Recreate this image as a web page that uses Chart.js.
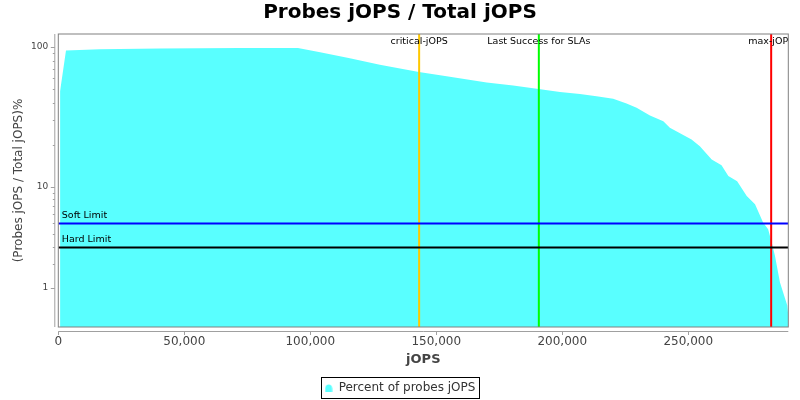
<!DOCTYPE html>
<html>
<head>
<meta charset="utf-8">
<title>Probes jOPS / Total jOPS</title>
<script src="https://cdn.jsdelivr.net/npm/chart.js@4.4.1/dist/chart.umd.min.js"></script>
<style>
  html, body { margin: 0; padding: 0; background: #fff; }
  #wrap { width: 800px; height: 400px; }
</style>
</head>
<body>
<div id="wrap"><canvas id="probesChart" width="800" height="400"></canvas></div>
<script>
// данные
const jopsValues = [700, 3050, 16500, 40400, 72100, 95100, 103900, 115700, 127600, 143100,
  154100, 170000, 180500, 190600, 199100, 207000, 213600, 220200, 225500, 229500,
  234800, 240100, 242700, 251300, 254600, 259300, 263200, 265900, 269400, 273200,
  276500, 279700, 281700, 283100, 284400, 286400, 289300, 289700];
const probePct = [48.3, 94.6, 96.4, 97.6, 98.4, 98.6, 91.8, 83.2, 74.8, 66.4,
  61.8, 55.9, 53.2, 50.2, 47.8, 46.2, 44.5, 42.7, 39.5, 36.8,
  32.4, 29.5, 26.5, 21.9, 19.6, 15.7, 14.3, 12.0, 11.0, 8.48,
  7.26, 5.08, 4.44, 3.36, 2.48, 1.20, 0.47, 0.23];

const markerLabels = ['critical-jOPS', 'Last Success for SLAs', 'max-jOPS'];
const markerValues = [143200, 190700, 282900];
const limitLabels = ['Soft Limit', 'Hard Limit'];
const limitValues = [5, 3];

const xTickValues = [0, 50000, 100000, 150000, 200000, 250000];
const yTickValues = [1, 2, 3, 4, 5, 6, 7, 8, 9, 10, 20, 30, 40, 50, 60, 70, 80, 90, 100];
const yTickLabels = ['1', '10', '100'];

const markerColors = ['#ffc800', '#00ff00', '#ff0000'];
const limitColors = ['#0000ff', '#000000'];
const fillColor = '#59ffff';

// log axis like JFreeChart: values below 10 get squeezed so 0 is reachable
function adjLog(v) {
  if (v < 10) v = v + (10 - v) / 10;
  return Math.log10(v);
}
function adjLogInv(a) {
  return a < 1 ? (Math.pow(10, a) - 1) / 0.9 : Math.pow(10, a);
}

class AdjLogScale extends Chart.LinearScale {
  buildTicks() {
    return yTickValues.filter(v => v >= this.min && v <= this.max).map(v => ({ value: v }));
  }
  configure() {
    super.configure();
    this._s = adjLog(this.min);
    this._r = adjLog(this.max) - this._s;
  }
  getPixelForValue(value) {
    return this.getPixelForDecimal((adjLog(value) - this._s) / this._r);
  }
  getValueForPixel(pixel) {
    return adjLogInv(this._s + this.getDecimalForPixel(pixel) * this._r);
  }
}
AdjLogScale.id = 'adjLog';
AdjLogScale.defaults = { ticks: { callback: Chart.LinearScale.defaults.ticks.callback } };
Chart.register(AdjLogScale);

// маркер легенды
function legendMarker() {
  const c = document.createElement('canvas');
  c.width = 8; c.height = 8;
  const g = c.getContext('2d');
  g.fillStyle = fillColor;
  g.beginPath();
  g.moveTo(0.5, 8);
  g.lineTo(0.5, 4.5);
  g.quadraticCurveTo(0.8, 0.5, 4, 0.5);
  g.quadraticCurveTo(7.2, 0.5, 7.5, 4.5);
  g.lineTo(7.5, 8);
  g.closePath();
  g.fill();
  return c;
}

// линии-отметки, рамка, оси и рамка легенды
const decorPlugin = {
  id: 'decor',
  afterDatasetsDraw(chart) {
    const ctx = chart.ctx;
    const a = chart.chartArea;
    const x = chart.scales.x;
    const y = chart.scales.y;

    ctx.save();
    ctx.beginPath();
    ctx.rect(a.left, a.top, a.right - a.left, a.bottom - a.top);
    ctx.clip();
    ctx.lineWidth = 2;
    markerValues.forEach((v, i) => {
      const px = x.getPixelForValue(v);
      ctx.strokeStyle = markerColors[i];
      ctx.beginPath();
      ctx.moveTo(px, a.top);
      ctx.lineTo(px, a.bottom);
      ctx.stroke();
    });
    limitValues.forEach((v, i) => {
      const py = y.getPixelForValue(v);
      ctx.strokeStyle = limitColors[i];
      ctx.beginPath();
      ctx.moveTo(a.left, py);
      ctx.lineTo(a.right, py);
      ctx.stroke();
    });
    ctx.fillStyle = '#000';
    ctx.font = '9.5px "DejaVu Sans"';
    ctx.textBaseline = 'middle';
    ctx.textAlign = 'center';
    markerValues.forEach((v, i) => {
      ctx.fillText(markerLabels[i], x.getPixelForValue(v), a.top + 7.7);
    });
    ctx.textAlign = 'left';
    limitValues.forEach((v, i) => {
      ctx.fillText(limitLabels[i], a.left + 3.5, y.getPixelForValue(v) - 8.3);
    });
    ctx.restore();

    ctx.save();
    ctx.lineWidth = 1;
    ctx.strokeStyle = '#808080';
    ctx.strokeRect(a.left, a.top, a.right - a.left, a.bottom - a.top);

    // оси чуть отодвинуты от области графика
    const axisX = a.left - 3.5;
    const axisY = a.bottom + 4.5;
    ctx.strokeStyle = '#a0a0a0';
    ctx.beginPath();
    ctx.moveTo(axisX, a.top);
    ctx.lineTo(axisX, a.bottom);
    ctx.moveTo(a.left, axisY);
    ctx.lineTo(a.right, axisY);
    y.ticks.forEach(t => {
      const py = Math.round(y.getPixelForValue(t.value)) + 0.5;
      const len = t.label ? 4 : 2;
      ctx.moveTo(axisX - len, py);
      ctx.lineTo(axisX, py);
    });
    x.ticks.forEach(t => {
      const px = Math.round(x.getPixelForValue(t.value)) + 0.5;
      ctx.moveTo(px, axisY);
      ctx.lineTo(px, axisY + 3.5);
    });
    ctx.stroke();
    ctx.restore();
  },
  afterDraw(chart) {
    const hb = chart.legend && chart.legend.legendHitBoxes && chart.legend.legendHitBoxes[0];
    if (!hb) return;
    const ctx = chart.ctx;
    const cy = hb.top + hb.height / 2;
    const l = Math.round(hb.left - 3.2) + 0.5;
    const r = Math.round(hb.left + hb.width + 3.2) + 0.5;
    const t = Math.round(cy - 11) + 0.5;
    const b = Math.round(cy + 10) + 0.5;
    ctx.save();
    ctx.strokeStyle = '#000';
    ctx.lineWidth = 1;
    ctx.strokeRect(l, t, r - l, b - t);
    ctx.restore();
  }
};

Chart.defaults.font.family = '"DejaVu Sans", sans-serif';

new Chart(document.getElementById('probesChart'), {
  type: 'line',
  data: {
    datasets: [{
      label: 'Percent of probes jOPS',
      data: jopsValues.map((v, i) => ({ x: v, y: probePct[i] })),
      backgroundColor: fillColor,
      borderWidth: 0,
      pointRadius: 0,
      fill: 'start',
      tension: 0
    }]
  },
  options: {
    responsive: false,
    animation: false,
    layout: { padding: { left: 11.7, right: 11.7, top: 0, bottom: -4 } },
    scales: {
      x: {
        type: 'linear',
        min: 0,
        max: 289700,
        grid: { display: false, drawTicks: false },
        border: { display: false },
        ticks: {
          padding: 7.5,
          color: '#444',
          font: { size: 12 },
          callback: v => v.toLocaleString('en-US')
        },
        afterBuildTicks: s => { s.ticks = xTickValues.map(v => ({ value: v })); },
        title: {
          display: true,
          text: 'jOPS',
          color: '#444',
          font: { size: 13, weight: 'bold' },
          padding: { top: 0, bottom: 1.2 }
        },
        afterFit: s => { s.height = 42; }
      },
      y: {
        type: 'adjLog',
        min: 0,
        max: 124,
        grid: { display: false, drawTicks: false },
        border: { display: false },
        ticks: {
          autoSkip: false,
          padding: 10,
          color: '#444',
          font: { size: 9 },
          callback: v => yTickLabels.indexOf(String(v)) >= 0 ? String(v) : ''
        },
        title: {
          display: true,
          text: '(Probes jOPS / Total jOPS)%',
          color: '#444',
          font: { size: 12 },
          padding: { top: 0, bottom: 0 }
        },
        afterFit: s => { s.width = 46.6; }
      }
    },
    plugins: {
      title: {
        display: true,
        text: 'Probes jOPS / Total jOPS',
        color: '#000',
        font: { size: 20, weight: 'bold' },
        padding: { top: 1, bottom: 9 }
      },
      legend: {
        position: 'bottom',
        labels: {
          usePointStyle: true,
          pointStyle: legendMarker(),
          pointStyleWidth: 8,
          padding: 13,
          color: '#333',
          font: { size: 12 }
        }
      },
      tooltip: { enabled: false }
    }
  },
  plugins: [decorPlugin]
});
</script>
</body>
</html>
